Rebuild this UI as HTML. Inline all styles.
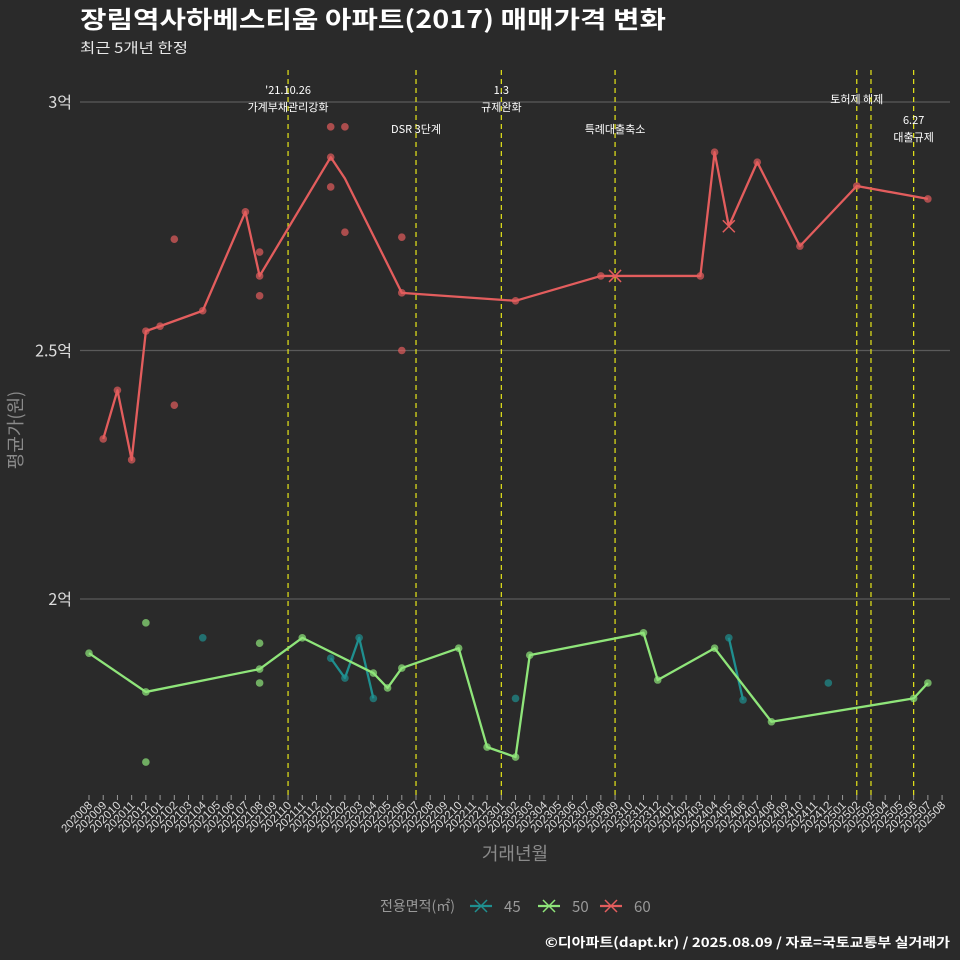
<!DOCTYPE html>
<html><head><meta charset="utf-8"><style>
body{margin:0;background:#2a2a2a;}
svg text{font-family:"Noto Sans CJK KR","Liberation Sans",sans-serif;}
svg text.lib{font-family:"Liberation Sans","Noto Sans CJK KR",sans-serif;}
</style></head><body>
<svg id="c" width="960" height="960" xmlns="http://www.w3.org/2000/svg" style="display:block;background:#2a2a2a">
<text x="80" y="28" font-size="24" font-weight="bold" fill="#ffffff" textLength="586" lengthAdjust="spacingAndGlyphs">장림역사하베스티움 아파트(2017) 매매가격 변화</text>
<text x="80" y="53" font-size="14" fill="#e8e8e8" textLength="108" lengthAdjust="spacingAndGlyphs">최근 5개년 한정</text>
<text transform="translate(22,430) rotate(-90)" text-anchor="middle" font-size="18" fill="#8a8a8a">평균가(원)</text>
<text x="515" y="860" text-anchor="middle" font-size="18" fill="#8a8a8a">거래년월</text>
<text x="950" y="947" text-anchor="end" font-size="13" font-weight="bold" fill="#ffffff" textLength="405" lengthAdjust="spacingAndGlyphs">©디아파트(dapt.kr) / 2025.08.09 / 자료=국토교통부 실거래가</text>
<g id="grid"></g><g id="vl"></g><g id="xt"></g><g id="series"></g><g id="legend"></g>
</svg>
<script>
const monthLabels=[];for(let y=2020,m=8;!(y===2025&&m>8);){monthLabels.push(''+y+String(m).padStart(2,'0'));m++;if(m>12){m=1;y++;}}
const yTicks=[2,2.5,3];
const yTickLabels=['2억','2.5억','3억'];
const eventMonths=[14,23,29,37,54,55,58];
const eventLabels=[["'21.10.26","가계부채관리강화"],["DSR 3단계"],["1.3","규제완화"],["특례대출축소"],["토허제 해제"],[""],["6.27","대출규제"]];
const eventLabelY=[[94,111],[133],[94,111],[133],[103],[],[124,141]];
const s60m=[1,2,3,4,5,8,11,12,17,18,22,30,36,37,43,44,45,47,50,54,59];
const s60v=[2.322,2.42,2.28,2.539,2.549,2.58,2.779,2.65,2.889,2.846,2.616,2.60,2.65,2.65,2.65,2.899,2.75,2.879,2.71,2.831,2.805];
const s60dot=[1,1,1,1,1,1,1,1,1,0,1,1,1,0,1,1,0,1,1,1,1];
const d60m=[6,6,12,12,17,17,18,18,22,22];
const d60v=[2.724,2.39,2.698,2.61,2.95,2.829,2.95,2.738,2.728,2.5];
const s50m=[0,4,12,15,20,21,22,26,28,30,31,39,40,44,48,58,59];
const s50v=[1.891,1.813,1.859,1.922,1.851,1.821,1.861,1.901,1.702,1.682,1.887,1.932,1.837,1.901,1.753,1.80,1.831];
const d50m=[4,4,12,12];
const d50v=[1.952,1.672,1.911,1.831];
const s45m=[17,18,19,20];
const s45v=[1.881,1.841,1.922,1.80];
const s45bm=[45,46];
const s45bv=[1.922,1.797];
const d45m=[8,30,52];
const d45v=[1.922,1.80,1.831];
const cross60m=[37,45];const cross60v=[2.65,2.75];

const X=m=>89+m*14.218, Y=v=>599-(v-2)*497;
const NS='http://www.w3.org/2000/svg';
function mk(t,a,p){const e=document.createElementNS(NS,t);for(const k in a)e.setAttribute(k,a[k]);p.appendChild(e);return e;}
const grid=document.getElementById('grid');
yTicks.forEach((v,i)=>{
 const l=mk('line',{x1:80,x2:950,y1:Y(v),y2:Y(v),stroke:'#5a5a5a','stroke-width':1.2},grid);
 
 
 const t=mk('text',{x:72,y:Y(v)+6,'text-anchor':'end','font-size':16,fill:'#dddddd'},grid);t.textContent=yTickLabels[i];
 
 
});
const vl=document.getElementById('vl');
eventMonths.forEach((m,i)=>{
 const l=mk('line',{x1:X(m),x2:X(m),y1:70,y2:795,stroke:'#e6e619','stroke-width':1.2,'stroke-dasharray':'5,4'},vl);
 
 
 eventLabels[i].forEach((s,j)=>{if(!s)return;
  const t=mk('text',{x:X(m),y:eventLabelY[i][j],'text-anchor':'middle','font-size':11,fill:'#ffffff'},vl);t.textContent=s;
  
  
 });
});
const xt=document.getElementById('xt');
monthLabels.forEach((s,i)=>{
 mk('line',{x1:X(i),x2:X(i),y1:795,y2:800,stroke:'#999'},xt);
 const t=mk('text',{class:'lib',transform:`translate(${X(i)+4},806) rotate(-45)`,'text-anchor':'end','font-size':11.5,fill:'#dddddd'},xt);t.textContent=s;
 
 
});
const sg=document.getElementById('series');
function line(ms,vs,c,name){const p=mk('polyline',{points:ms.map((m,i)=>X(m)+','+Y(vs[i])).join(' '),fill:'none',stroke:c,'stroke-width':2.3,'stroke-linejoin':'round'},sg);
 
 }
function dots(ms,vs,c,name,mask){ms.forEach((m,i)=>{if(mask&&!mask[i])return;const d=mk('circle',{cx:X(m),cy:Y(vs[i]),r:3.8,fill:c,opacity:0.7},sg);
 
 });}
const c45='#1f8f8f',c50='#8fe57a',c60='#e35d5d';
dots(d60m,d60v,c60,'point-60');dots(s60m,s60v,c60,'point-60',s60dot);line(s60m,s60v,c60,'line-60');
dots(d45m,d45v,c45,'point-45');dots(s45m,s45v,c45,'point-45');dots(s45bm,s45bv,c45,'point-45');line(s45m,s45v,c45,'line-45');line(s45bm,s45bv,c45,'line-45');
dots(d50m,d50v,c50,'point-50');dots(s50m,s50v,c50,'point-50');line(s50m,s50v,c50,'line-50');
cross60m.forEach((m,i)=>{const x=X(m),y=Y(cross60v[i]);mk('path',{d:`M${x-6},${y-6}L${x+6},${y+6}M${x-6},${y+6}L${x+6},${y-6}`,stroke:c60,'stroke-width':1.5},sg);});
const lg=document.getElementById('legend');
const t0=mk('text',{x:380,y:911,'font-size':14,fill:'#999'},lg);t0.textContent='전용면적(㎡)';


[['45',c45,470],['50',c50,538],['60',c60,600]].forEach(([s,c,x])=>{
 const g=mk('g',{},lg);
 
 
 mk('line',{x1:x,x2:x+22,y1:906,y2:906,stroke:c,'stroke-width':2.3},g);
 mk('path',{d:`M${x+5},${900}L${x+17},${912}M${x+5},${912}L${x+17},${900}`,stroke:c,'stroke-width':1.5},g);
 const t=mk('text',{x:x+34,y:912,'font-size':15,fill:'#999'},g);t.textContent=s;
});
</script>
</body></html>
